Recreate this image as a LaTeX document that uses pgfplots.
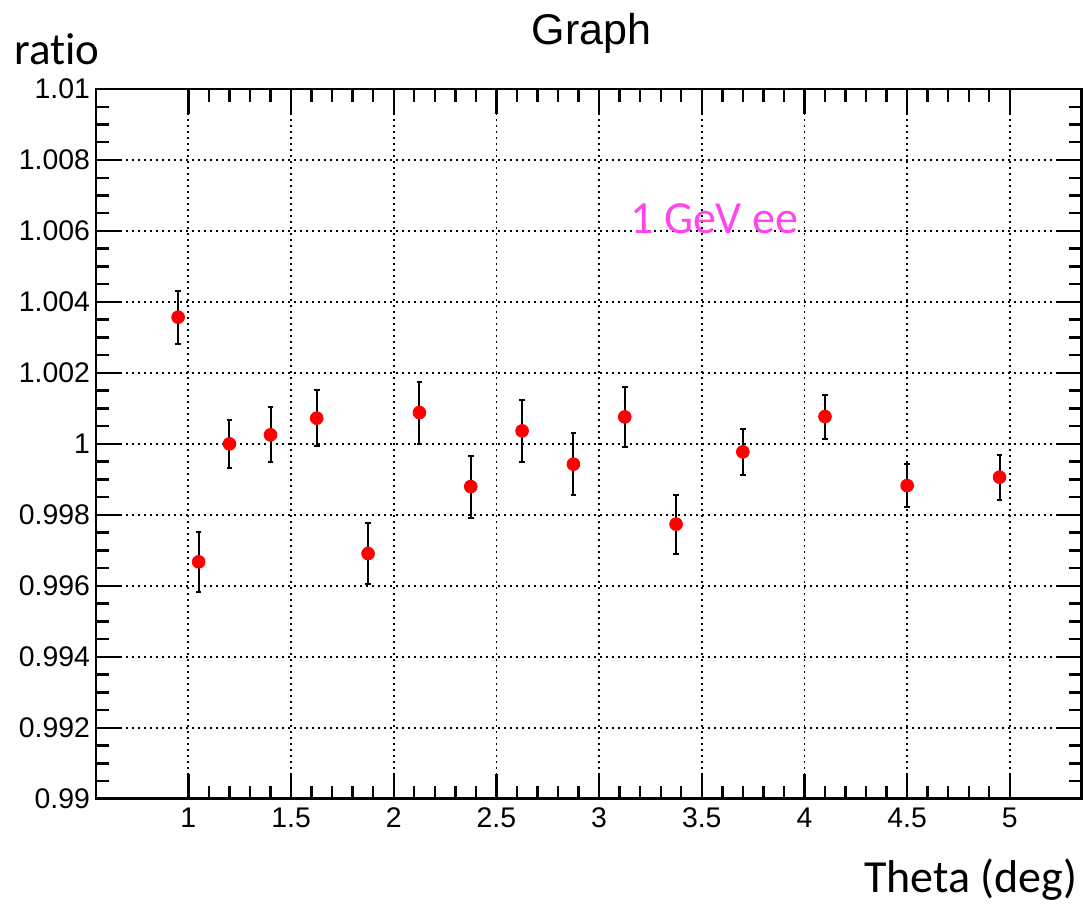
\documentclass[border=0pt]{standalone}
\usepackage{pgfplots}
\pgfplotsset{compat=1.18}
\usepackage{pgfplotstable}
\usepackage{fontspec}
\setmainfont{Liberation Sans}
\newfontfamily\calib[Ligatures=NoCommon]{Carlito}
\definecolor{lblmag}{RGB}{255,68,240}

\pgfplotstableread{
x y e
0.95 1.003569 0.000751
1.05 0.996676 0.000845
1.2 1.000000 0.000672
1.4 1.000254 0.000775
1.625 1.000724 0.000789
1.875 0.996910 0.000854
2.125 1.000882 0.000873
2.375 0.998797 0.000873
2.625 1.000366 0.000873
2.875 0.999428 0.000877
3.125 1.000760 0.000849
3.375 0.997738 0.000827
3.7 0.999775 0.000642
4.1 1.000769 0.000620
4.5 0.998825 0.000606
4.95 0.999062 0.000634
}\ratiodata

\begin{document}
\begin{tikzpicture}
\begin{axis}[
 scale only axis, width=493pt, height=355pt,
 xmin=0.55, xmax=5.35, ymin=0.99, ymax=1.01,
 xtick={1,1.5,2,2.5,3,3.5,4,4.5,5},
 xticklabels={1,1.5,2,2.5,3,3.5,4,4.5,5},
 ytick={0.99,0.992,0.994,0.996,0.998,1,1.002,1.004,1.006,1.008,1.01},
 yticklabels={0.99,0.992,0.994,0.996,0.998,1,1.002,1.004,1.006,1.008,1.01},
 minor x tick num=4, minor y tick num=3,
 tick align=inside, xtick pos=both, ytick pos=both,
 major tick length=12.5pt, minor tick length=6.5pt,
 grid=major,
 major grid style={black, line width=0.9pt, dash pattern=on 0.9pt off 2.1pt},
 axis line style={line width=1.3pt},
 every tick/.style={black, line width=1.2pt},
 tick label style={font=\fontsize{14.2}{16}\selectfont},
 yticklabel style={xshift=0.5pt},
 xticklabel style={yshift=-1pt},
 clip=false,
]
\addplot[only marks, mark=*, mark size=3.2pt, mark options={fill=red, draw=red},
  error bars/.cd, y dir=both, y explicit,
  error bar style={black, line width=1pt},
  error mark options={rotate=90, mark size=1.4pt, black, line width=1pt}]
  table[x=x, y=y, y error=e] {\ratiodata};
\node[anchor=base west, text=lblmag, font=\calib\fontsize{23}{27}\selectfont, inner sep=0pt] at (axis cs:3.15,1.00594) {1 GeV ee};
\end{axis}
\node[anchor=base west, inner sep=0pt, font=\calib\fontsize{22.5}{27}\selectfont] at (-41pt,367pt) {ratio};
\node[anchor=base east, inner sep=0pt, font=\calib\fontsize{23}{27}\selectfont] at (491pt,-47pt) {Theta (deg)};
\node[anchor=base, inner sep=0pt, font=\fontsize{21.5}{25}\selectfont] at (247.75pt,377pt) {Graph};
\path[use as bounding box] (-48pt,-53pt) rectangle (493.5pt,399.5pt);
\end{tikzpicture}
\end{document}
